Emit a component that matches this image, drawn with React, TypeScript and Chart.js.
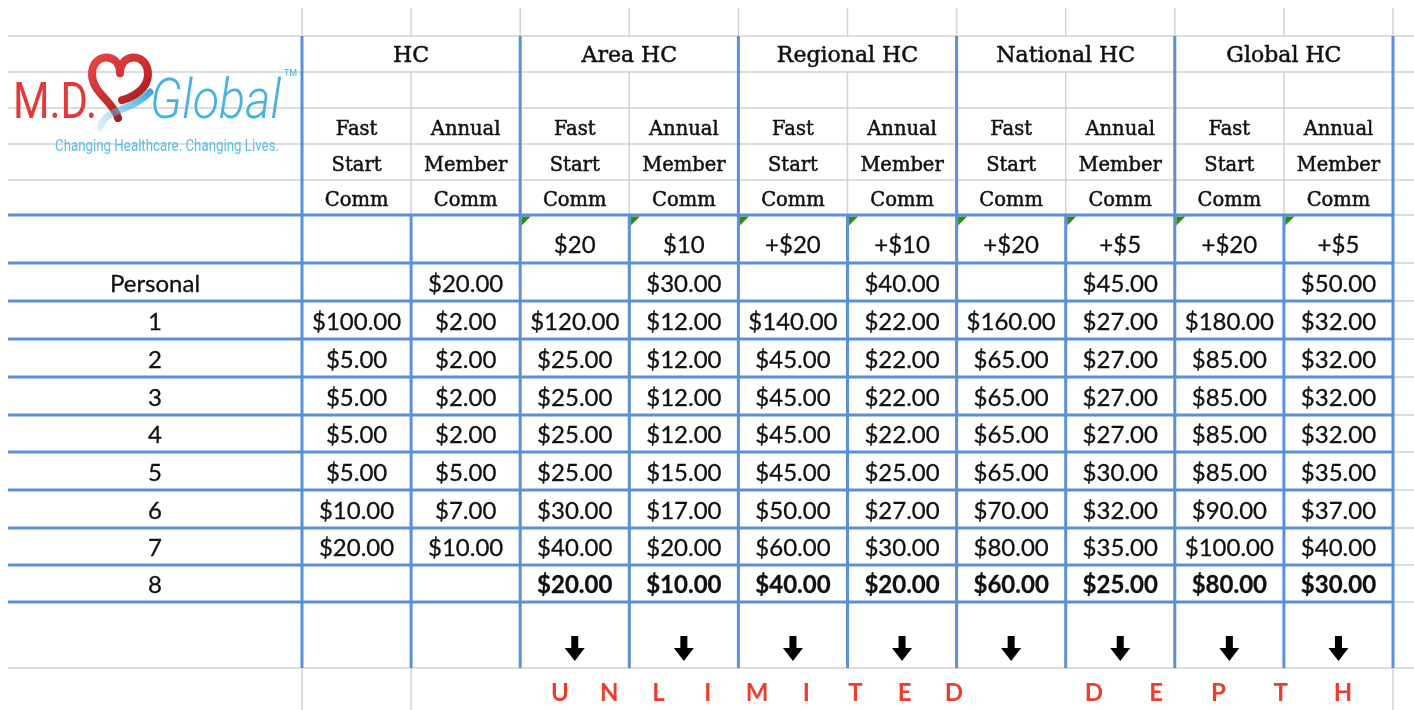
import React, { useEffect, useRef } from "react";
import { Chart, registerables } from "chart.js";
Chart.register(...registerables);

// ---------- data ----------
const groups = ["HC", "Area HC", "Regional HC", "National HC", "Global HC"];
const fastHeader = ["Fast", "Start", "Comm"];
const annualHeader = ["Annual", "Member", "Comm"];
const increments = ["", "", "$20", "$10", "+$20", "+$10", "+$20", "+$5", "+$20", "+$5"];
const rowLabels = ["Personal", "1", "2", "3", "4", "5", "6", "7", "8"];
const personal = [null, 20, null, 30, null, 40, null, 45, null, 50];
const level1 = [100, 2, 120, 12, 140, 22, 160, 27, 180, 32];
const level2 = [5, 2, 25, 12, 45, 22, 65, 27, 85, 32];
const level3 = [5, 2, 25, 12, 45, 22, 65, 27, 85, 32];
const level4 = [5, 2, 25, 12, 45, 22, 65, 27, 85, 32];
const level5 = [5, 5, 25, 15, 45, 25, 65, 30, 85, 35];
const level6 = [10, 7, 30, 17, 50, 27, 70, 32, 90, 37];
const level7 = [20, 10, 40, 20, 60, 30, 80, 35, 100, 40];
const level8 = [null, null, 20, 10, 40, 20, 60, 25, 80, 30];
const levelRows = [personal, level1, level2, level3, level4, level5, level6, level7, level8];
const boldRows = [false, false, false, false, false, false, false, false, true];
const footerWords = ["UNLIMITED", "DEPTH"];
const logoMain = "M.D.";
const logoGlobal = "Global";
const logoTag = "Changing Healthcare. Changing Lives.";

// ---------- layout ----------
const W = 1414;
const H = 710;
const TABLE_LEFT = 8;
const LABEL_RIGHT = 302;
const COL_W = 109.1;
const NCOLS = 10;
const ROW_EDGES = [8, 36, 72, 108, 144, 180, 215, 263, 301, 339, 377, 415, 452, 490, 528, 565, 602, 668, 710];
const FOOTER_SPANS = [[560, 954], [1094, 1343]];
const BLUE = "#5b8fd8";
const GRAY = "#d2d2d2";
const SERIF = "'DejaVu Serif', serif";
const SANS = "Lato, 'Noto Sans', sans-serif";

const colLeft = (c: number) => LABEL_RIGHT + c * COL_W;
const colCenter = (c: number) => LABEL_RIGHT + (c + 0.5) * COL_W;
const RIGHT = colLeft(NCOLS);
const fmt = (v: number) => "$" + v.toFixed(2);

type Cell = { x: number; y: number; text: string; font: string; color: string; stroke?: number };

function buildCells(): Cell[] {
  const cells: Cell[] = [];
  groups.forEach((g, i) => {
    cells.push({ x: colLeft(2 * i + 1), y: ROW_EDGES[2] - 10, text: g, font: `22px ${SERIF}`, color: "#111", stroke: 0.5 });
  });
  for (let c = 0; c < NCOLS; c++) {
    const lines = c % 2 === 0 ? fastHeader : annualHeader;
    lines.forEach((t, k) => {
      cells.push({ x: colCenter(c), y: ROW_EDGES[4 + k] - 9, text: t, font: `19.5px ${SERIF}`, color: "#111", stroke: 0.5 });
    });
  }
  increments.forEach((t, c) => {
    if (t) cells.push({ x: colCenter(c), y: ROW_EDGES[7] - 10, text: t, font: `24px ${SANS}`, color: "#111", stroke: 0.3 });
  });
  levelRows.forEach((vals, r) => {
    const base = ROW_EDGES[8 + r] - 9;
    const font = `${boldRows[r] ? "bold " : ""}24px ${SANS}`;
    cells.push({ x: (TABLE_LEFT + LABEL_RIGHT) / 2, y: base, text: rowLabels[r], font: `24px ${SANS}`, color: "#111", stroke: 0.3 });
    vals.forEach((v, c) => {
      if (v !== null) cells.push({ x: colCenter(c), y: base, text: fmt(v as number), font, color: "#111", stroke: 0.3 });
    });
  });
  return cells;
}

function drawHeart(ctx: CanvasRenderingContext2D) {
  const cx = 120, top = 54, w = 56, h = 64;
  ctx.save();
  const grad = ctx.createLinearGradient(cx - w / 2, top, cx + w / 2, top + h);
  grad.addColorStop(0, "#e84848");
  grad.addColorStop(0.6, "#c42a2a");
  grad.addColorStop(1, "#7a1212");
  ctx.strokeStyle = grad;
  ctx.lineWidth = 8;
  ctx.lineCap = "round";
  ctx.beginPath();
  ctx.moveTo(cx, top + h * 0.3);
  ctx.bezierCurveTo(cx, top - 2, cx - w / 2, top - 2, cx - w / 2, top + h * 0.32);
  ctx.bezierCurveTo(cx - w / 2, top + h * 0.6, cx - 6, top + h * 0.75, cx - 2, top + h);
  ctx.moveTo(cx, top + h * 0.3);
  ctx.bezierCurveTo(cx, top - 2, cx + w / 2, top - 2, cx + w / 2, top + h * 0.32);
  ctx.bezierCurveTo(cx + w / 2, top + h * 0.55, cx + 12, top + h * 0.68, cx + 2, top + h * 0.72);
  ctx.stroke();
  const g2 = ctx.createLinearGradient(95, 125, 150, 90);
  g2.addColorStop(0, "rgba(120,200,235,0.25)");
  g2.addColorStop(1, "#3aa6dc");
  ctx.strokeStyle = g2;
  ctx.lineWidth = 7;
  ctx.beginPath();
  ctx.moveTo(100, 128);
  ctx.bezierCurveTo(104, 108, 132, 112, 150, 92);
  ctx.stroke();
  ctx.restore();
}

const tablePlugin = {
  id: "tablePlugin",
  afterDraw(chart: any) {
    const ctx: CanvasRenderingContext2D = chart.ctx;
    const xs = chart.scales.x;
    const ys = chart.scales.y;
    const X = (v: number) => xs.getPixelForValue(v);
    const Y = (v: number) => ys.getPixelForValue(v);
    const line = (x1: number, y1: number, x2: number, y2: number, color: string, lw: number) => {
      ctx.strokeStyle = color;
      ctx.lineWidth = lw;
      ctx.beginPath();
      ctx.moveTo(X(x1), Y(y1));
      ctx.lineTo(X(x2), Y(y2));
      ctx.stroke();
    };
    ctx.save();
    ctx.fillStyle = "#fff";
    ctx.fillRect(0, 0, chart.width, chart.height);

    const R = ROW_EDGES;
    for (let i = 1; i <= 5; i++) line(TABLE_LEFT, R[i], W, R[i], GRAY, 1.5);
    for (let i = 6; i <= 16; i++) line(RIGHT, R[i], W, R[i], GRAY, 1.5);
    line(TABLE_LEFT, R[17], W, R[17], GRAY, 1.5);
    for (let c = 0; c <= NCOLS; c++) line(colLeft(c), R[0], colLeft(c), R[1], GRAY, 1.5);
    for (let c = 1; c < NCOLS; c += 2) line(colLeft(c), R[2], colLeft(c), R[6], GRAY, 1.5);
    [0, 1, NCOLS].forEach((c) => line(colLeft(c), R[17], colLeft(c), R[18], GRAY, 1.5));

    for (let i = 6; i <= 16; i++) line(TABLE_LEFT, R[i], RIGHT, R[i], BLUE, 3);
    for (let c = 0; c <= NCOLS; c += 2) line(colLeft(c), R[1], colLeft(c), R[17], BLUE, 3);
    for (let c = 1; c < NCOLS; c += 2) line(colLeft(c), R[6], colLeft(c), R[17], BLUE, 3);

    ctx.fillStyle = "#2f8a1c";
    for (let c = 2; c < NCOLS; c++) {
      const x0 = X(colLeft(c)) + 1.5, y0 = Y(R[6]) + 1.5;
      ctx.beginPath();
      ctx.moveTo(x0, y0);
      ctx.lineTo(x0 + 9, y0);
      ctx.lineTo(x0, y0 + 9);
      ctx.closePath();
      ctx.fill();
    }

    const meta = chart.getDatasetMeta(0);
    const raw = chart.data.datasets[0].data as Cell[];
    ctx.textAlign = "center";
    ctx.textBaseline = "alphabetic";
    ctx.lineJoin = "round";
    meta.data.forEach((el: any, i: number) => {
      const cell = raw[i];
      ctx.font = cell.font;
      ctx.fillStyle = cell.color;
      ctx.fillText(cell.text, el.x, el.y);
      if (cell.stroke) {
        ctx.strokeStyle = cell.color;
        ctx.lineWidth = cell.stroke;
        ctx.strokeText(cell.text, el.x, el.y);
      }
    });

    // arrows
    ctx.fillStyle = "#000";
    for (let c = 2; c < NCOLS; c++) {
      const cx = X(colCenter(c));
      const cy = Y((R[16] + R[17]) / 2) + 14;
      ctx.fillRect(cx - 3.5, cy - 13, 7, 14);
      ctx.beginPath();
      ctx.moveTo(cx - 10, cy - 1);
      ctx.lineTo(cx + 10, cy - 1);
      ctx.lineTo(cx, cy + 12);
      ctx.closePath();
      ctx.fill();
    }

    // footer text
    ctx.font = `bold 24px ${SANS}`;
    ctx.fillStyle = "#ee3b2a";
    ctx.textAlign = "center";
    const fy = Y(R[18]) - 9;
    footerWords.forEach((word, wi) => {
      const [a, b] = FOOTER_SPANS[wi];
      const letters = word.split("");
      const step = (b - a) / (letters.length - 1);
      letters.forEach((ch, k) => ctx.fillText(ch, X(a + k * step), fy));
    });

    // logo
    drawHeart(ctx);
    ctx.textAlign = "left";
    ctx.fillStyle = "#e03a3a";
    ctx.font = `50px Roboto, sans-serif`;
    ctx.fillText(logoMain, 13, 118, 84);
    ctx.fillStyle = "#45b2e0";
    ctx.font = `italic 300 55px Roboto, sans-serif`;
    ctx.fillText(logoGlobal, 150, 118, 131);
    ctx.font = `9px Roboto, sans-serif`;
    ctx.fillText("TM", 284, 76);
    ctx.fillStyle = "#5cbde6";
    ctx.font = `16px 'Liberation Sans Narrow', Roboto, sans-serif`;
    ctx.fillText(logoTag, 55, 151, 224);
    ctx.restore();
  },
};

export default function App() {
  const ref = useRef<HTMLCanvasElement>(null);
  useEffect(() => {
    document.body.style.margin = "0";
    const cells = buildCells();
    const chart = new Chart(ref.current as HTMLCanvasElement, {
      type: "scatter",
      data: {
        datasets: [
          {
            data: cells as any,
            pointRadius: 0,
            pointHoverRadius: 0,
          },
        ],
      },
      options: {
        animation: false,
        responsive: false,
        maintainAspectRatio: false,
        layout: { padding: 0 },
        events: [],
        scales: {
          x: { type: "linear", min: 0, max: W, display: false },
          y: { type: "linear", min: 0, max: H, reverse: true, display: false },
        },
        plugins: { legend: { display: false }, tooltip: { enabled: false } },
      },
      plugins: [tablePlugin],
    });
    return () => chart.destroy();
  }, []);
  return (
    <div style={{ width: W, height: H, background: "#fff" }}>
      <canvas ref={ref} width={W} height={H} style={{ display: "block" }} />
    </div>
  );
}
